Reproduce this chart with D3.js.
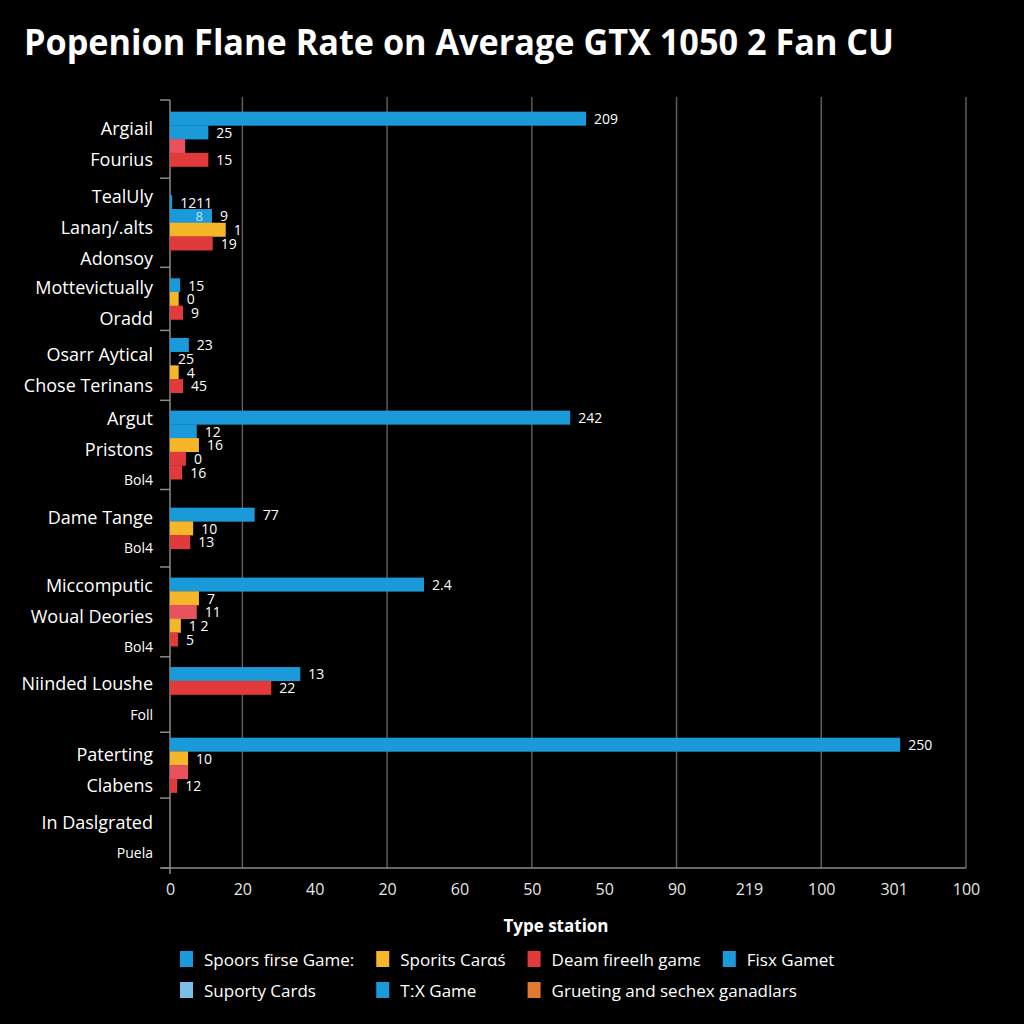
<!DOCTYPE html>
<html>
<head>
<meta charset="utf-8">
<script src="https://cdn.jsdelivr.net/npm/d3@7"></script>
<style>
  body { margin: 0; background: #000; }
  svg { display: block; font-family: "Open Sans", "Noto Sans", sans-serif; }
</style>
</head>
<body>
<svg id="chart" width="1024" height="1024"></svg>
<script>
// Category labels per group (last small ones are sub labels)
const groupNames = [
  ["Argiail", "Fourius"],
  ["TealUly", "Lanaŋ/.alts", "Adonsoy"],
  ["Mottevictually", "Oradd"],
  ["Osarr Aytical", "Chose Terinans"],
  ["Argut", "Pristons", "Bol4"],
  ["Dame Tange", "Bol4"],
  ["Miccomputic", "Woual Deories", "Bol4"],
  ["Niinded Loushe", "Foll"],
  ["Paterting", "Clabens"],
  ["In Daslgrated", "Puela"]
];
const smallNames = ["Bol4", "Foll", "Puela"];

// group boundaries on the y axis (row units)
const groupBounds = [0, 5.7, 12.2, 16.8, 21.9, 28.4, 34.05, 40.6, 46.1, 50.9, 56];

const barSeries = [
  ["blue", "blue", "pink", "red"],
  ["blue", "blue", "yellow", "red"],
  ["blue", "yellow", "red"],
  ["blue", "blue", "yellow", "red"],
  ["blue", "blue", "yellow", "red", "red"],
  ["blue", "yellow", "red"],
  ["blue", "yellow", "pink", "yellow", "red"],
  ["blue", "red", "blue", "red"],
  ["blue", "yellow", "pink", "red"],
  []
];
const barValues = [
  [57.5, 5.3, 2.1, 5.3],
  [0.3, 5.8, 7.7, 5.9],
  [1.4, 1.2, 1.8],
  [2.6, 0, 1.2, 1.8],
  [55.3, 3.7, 4.0, 2.2, 1.7],
  [11.7, 3.2, 2.8],
  [35.1, 4.0, 3.7, 1.5, 1.1],
  [18.0, 14.0, 0, 0],
  [100.9, 2.5, 2.5, 1.0],
  []
];
const barLabels = [
  ["209", "25", "", "15"],
  ["1211", "9", "1", "19"],
  ["15", "0", "9"],
  ["23", "25", "4", "45"],
  ["242", "12", "16", "0", "16"],
  ["77", "10", "13"],
  ["2.4", "7", "11", "1 2", "5"],
  ["13", "22", "", ""],
  ["250", "10", "", "12"],
  []
];
const innerLabels = [[], ["", "8"], [], [], [], [], [], [], [], []];

const xTickLabels = ["0", "20", "40", "20", "60", "50", "50", "90", "219", "100", "301", "100"];
const gridTicks = [10, 30, 50, 70, 90, 110];

const legendNames = ["Spoors firse Game:", "Sporits Carαś", "Deam fireelh gamε", "Fisx Gamet",
                     "Suporty Cards", "TːX Game", "Grueting and sechex ganadlars"];
const legendKeys = ["blue", "yellow", "red", "blue", "light", "blue", "orange"];

const colors = {
  blue: "#1b9ad9", yellow: "#f6b62a", red: "#e13a3b", pink: "#e8525e",
  light: "#7dbde6", orange: "#e07a30"
};

const svg = d3.select("#chart");

svg.append("rect").attr("width", 1024).attr("height", 1024).attr("fill", "#000");

// Title
svg.append("text")
  .attr("x", 24).attr("y", 55)
  .attr("fill", "#fff")
  .attr("font-size", 35).attr("font-weight", 700)
  .attr("textLength", 870).attr("lengthAdjust", "spacingAndGlyphs")
  .text("Popenion Flane Rate on Average GTX 1050 2 Fan CU");

// Scales
const x = d3.scaleLinear().domain([0, 110]).range([170, 966]);
const y = d3.scaleLinear().domain([0, 56]).range([100, 868]);
const rowH = y(1) - y(0);

// Gridlines
svg.append("g").selectAll("line").data(gridTicks).join("line")
  .attr("x1", d => x(d)).attr("x2", d => x(d))
  .attr("y1", 97).attr("y2", y(56))
  .attr("stroke", "#5c5c5c").attr("stroke-width", 1.5);

// Left axis line + group ticks
svg.append("line")
  .attr("x1", x(0)).attr("x2", x(0)).attr("y1", y(0)).attr("y2", y(56))
  .attr("stroke", "#8a8a8a").attr("stroke-width", 1.5);
svg.append("g").selectAll("line").data(groupBounds).join("line")
  .attr("x1", x(0) - 10).attr("x2", x(0))
  .attr("y1", d => y(d)).attr("y2", d => y(d))
  .attr("stroke", "#8a8a8a").attr("stroke-width", 1.5);

// Bottom axis
const xAxis = svg.append("g")
  .attr("transform", `translate(0,${y(56)})`)
  .call(d3.axisBottom(x).tickValues(d3.range(0, 111, 10))
    .tickFormat((d, i) => xTickLabels[i]).tickSize(0).tickPadding(16));
xAxis.select(".domain").attr("stroke", "#8a8a8a").attr("stroke-width", 1.5)
  .attr("d", `M${x(0) - 8},0H${x(110)}`);
xAxis.selectAll("text").attr("fill", "#e6e6e6").attr("font-size", 16)
  .attr("font-family", "\"Open Sans\", sans-serif");
xAxis.append("line").attr("x1", x(0)).attr("x2", x(0)).attr("y1", 0).attr("y2", 6)
  .attr("stroke", "#8a8a8a").attr("stroke-width", 1.5);

svg.append("text")
  .attr("x", 556).attr("y", 932).attr("text-anchor", "middle")
  .attr("fill", "#fff").attr("font-size", 17).attr("font-weight", 700)
  .text("Type station");

// Groups
groupNames.forEach((names, g) => {
  const mid = (groupBounds[g] + groupBounds[g + 1]) / 2;
  const n = barValues[g].length;
  const start = mid - n / 2;
  const midPx = y(mid);

  const gEl = svg.append("g");

  // category labels
  gEl.selectAll("text.cat").data(names).join("text")
    .attr("class", "cat")
    .attr("x", 153)
    .attr("y", (d, i) => midPx + (i - (names.length - 1) / 2) * 31 + 4)
    .attr("dominant-baseline", "central")
    .attr("text-anchor", "end")
    .attr("fill", "#fff")
    .attr("font-size", d => smallNames.includes(d) ? 14 : 18)
    .text(d => d);

  const rows = barValues[g].map((v, i) => ({
    v, s: barSeries[g][i], label: barLabels[g][i], inner: innerLabels[g][i] || "", row: start + i
  }));

  gEl.selectAll("rect").data(rows.filter(d => d.v > 0)).join("rect")
    .attr("x", x(0))
    .attr("y", d => y(d.row))
    .attr("width", d => x(d.v) - x(0))
    .attr("height", rowH + 0.3)
    .attr("fill", d => colors[d.s]);

  gEl.selectAll("text.val").data(rows.filter(d => d.label)).join("text")
    .attr("class", "val")
    .attr("x", d => x(d.v) + 8)
    .attr("y", d => y(d.row) + rowH / 2)
    .attr("dominant-baseline", "central")
    .attr("fill", "#fff")
    .attr("font-size", 14)
    .text(d => d.label);

  gEl.selectAll("text.inner").data(rows.filter(d => d.inner)).join("text")
    .attr("class", "inner")
    .attr("x", d => x(d.v) - 9)
    .attr("y", d => y(d.row) + rowH / 2)
    .attr("dominant-baseline", "central")
    .attr("text-anchor", "end")
    .attr("fill", "#b8e6ff")
    .attr("font-size", 13)
    .text(d => d.inner);
});

// Legend
const legend = svg.append("g");
const colX = [180];
const rowY = [959, 990];
const perRow = 4;
const textGap = 24;
// first row determines column positions
legendNames.slice(0, perRow).forEach((name, i) => {
  const t = legend.append("text")
    .attr("x", colX[i] + textGap).attr("y", rowY[0])
    .attr("dominant-baseline", "central")
    .attr("fill", "#fff").attr("font-size", 17)
    .text(name);
  colX.push(colX[i] + textGap + t.node().getComputedTextLength() + 22);
});
legendNames.slice(perRow).forEach((name, i) => {
  legend.append("text")
    .attr("x", colX[i] + textGap).attr("y", rowY[1])
    .attr("dominant-baseline", "central")
    .attr("fill", "#fff").attr("font-size", 17)
    .text(name);
});
legendKeys.forEach((k, i) => {
  const r = i < perRow ? 0 : 1;
  const c = i < perRow ? i : i - perRow;
  legend.append("rect")
    .attr("x", colX[c]).attr("y", rowY[r] - 8)
    .attr("width", 13).attr("height", 16)
    .attr("fill", colors[k]);
});
</script>
</body>
</html>
